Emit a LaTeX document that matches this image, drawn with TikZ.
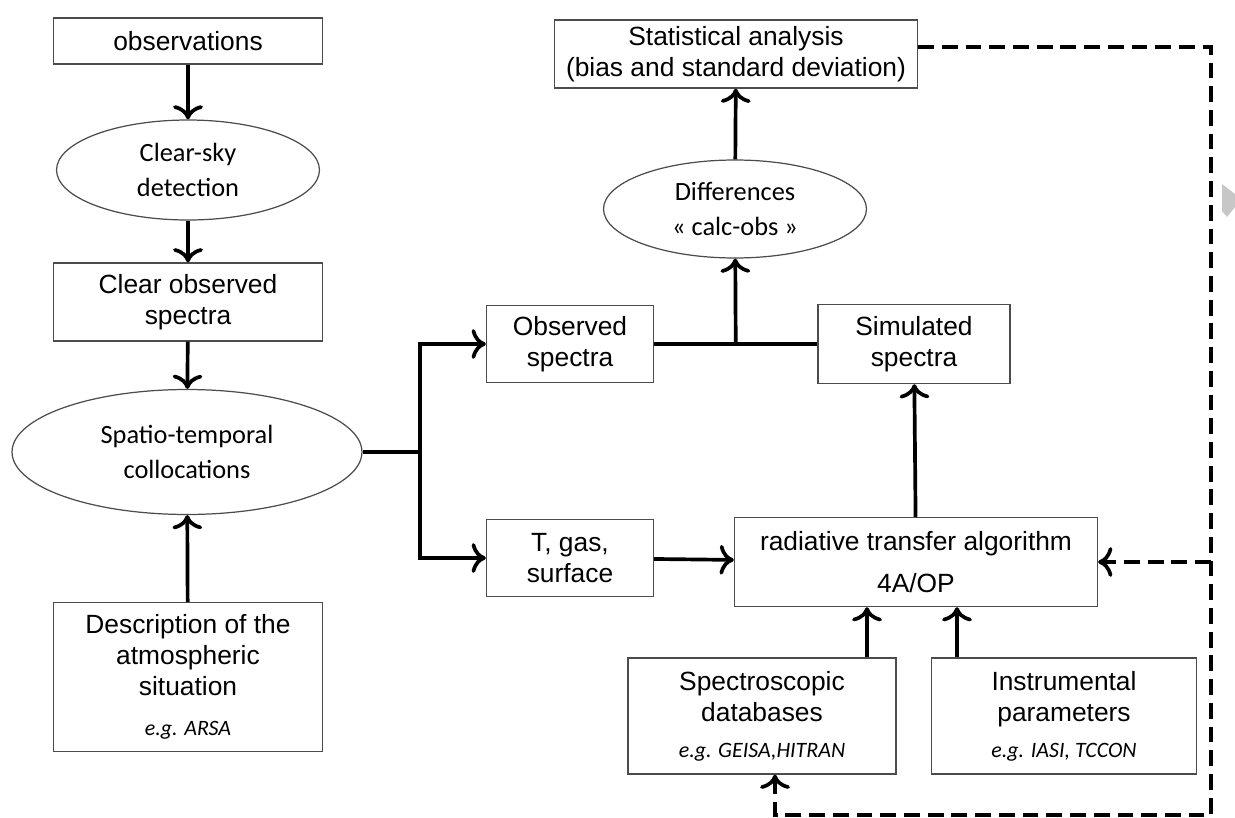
\documentclass[tikz,border=0pt]{standalone}
\usepackage{fontspec}
\setmainfont{Liberation Sans}
\newfontfamily\calibri{Carlito}
\usetikzlibrary{arrows.meta, shapes.geometric, calc}

\tikzset{
  box/.style={draw=black!70, line width=.8pt, align=center, inner sep=2pt, font=\fontsize{15}{17.6}\selectfont},
  oval/.style={ellipse, draw=black!70, line width=.7pt, align=center, inner sep=0pt, font=\calibri\fontsize{15}{19.5}\selectfont},
  flow/.style={-{To[scale=1.3]}, line width=2.1pt},
  feedback/.style={-{To[scale=1.3]}, line width=2.1pt, dash pattern=on 9pt off 4.5pt},
}
\newcommand{\eg}[1]{{\calibri\itshape\fontsize{12.5}{14}\selectfont #1}}

\begin{document}
\begin{tikzpicture}[x=0.02cm, y=-0.02cm]
        \useasboundingbox (0,0) rectangle (1235,818);

        % left column
        \node[box, minimum width=5.38cm, minimum height=0.92cm] at (188,41)   (obsv) {observations};
        \node[oval, minimum width=5.26cm, minimum height=2cm] at (188,170)   (clearsky) {Clear-sky\\detection};
        \node[box, minimum width=5.38cm, minimum height=1.56cm] at (188,302)   (clearobs) {Clear observed\\spectra};
        \node[oval, minimum width=7cm, minimum height=2.5cm] at (187,452)   (colloc) {Spatio-temporal\\collocations};
        \node[box, minimum width=5.38cm, minimum height=2.98cm] at (188,677)   (atmos) {Description of the\\atmospheric\\situation\\[5pt]\eg{e.g. ARSA}};

        % middle and right
        \node[box, minimum width=3.34cm, minimum height=1.54cm] at (570,344)   (obsspec) {Observed\\spectra};
        \node[box, minimum width=3.34cm, minimum height=1.54cm] at (570,558)   (tgas) {T, gas,\\surface};
        \node[box, minimum width=3.84cm, minimum height=1.58cm] at (914,344)   (simspec) {Simulated\\spectra};
        \node[oval, minimum width=5.26cm, minimum height=1.96cm] at (735,209)   (diff) {Differences\\« calc-obs »};
        \node[box, minimum width=7.26cm, minimum height=1.36cm] at (736,54)   (stats) {Statistical analysis\\(bias and standard deviation)};
        \node[box, minimum width=7.26cm, minimum height=1.78cm] at (916,562)   (rta) {radiative transfer algorithm\\[6pt]4A/OP};
        \node[box, minimum width=5.36cm, minimum height=2.32cm] at (762,716)   (specdb) {Spectroscopic\\databases\\[3pt]\eg{e.g. GEISA,HITRAN}};
        \node[box, minimum width=5.3cm, minimum height=2.32cm] at (1064,716)   (instr) {Instrumental\\parameters\\[3pt]\eg{e.g. IASI, TCCON}};

        \coordinate (split) at (420,452);
        \coordinate (join) at ($(obsspec.east)!.5!(simspec.west)$);
        \coordinate (tr) at (1211,47);
        \coordinate (br) at (1211,815);

        \draw [flow] (obsv) -- (clearsky);
        \draw [flow] (clearsky) -- (clearobs);
        \draw [flow] (clearobs) -- (colloc);
        \draw [flow] (atmos) -- (colloc);
        \draw [line width=2.1pt] (colloc.east) -- (split);
        \draw [flow] (split) |- (obsspec.west);
        \draw [flow] (split) |- (tgas.west);
        \draw [line width=2.1pt] (obsspec.east) -- (simspec.west);
        \draw [flow] (join) -- (diff);
        \draw [flow] (diff) -- (stats);
        \draw [flow] (tgas) -- (rta);
        \draw [flow] (rta) -- (simspec);
        \draw [flow] ($(specdb.north)+(105,0)$) -- ($(rta.south)+(-49,0)$);
        \draw [flow] ($(instr.north)+(-107,0)$) -- ($(rta.south)+(41,0)$);

        % feedback loop
        \draw [feedback] (stats.east |- tr) -- (tr) -- (br) -| ($(specdb.south)+(13,0)$);
        \draw [feedback] (tr |- rta.east) -- (rta.east);

        \fill[black!22] (1222,184) -- (1235,194) -- (1235,207) -- (1227,217) -- (1222,211) -- cycle;
    \end{tikzpicture}
\end{document}
